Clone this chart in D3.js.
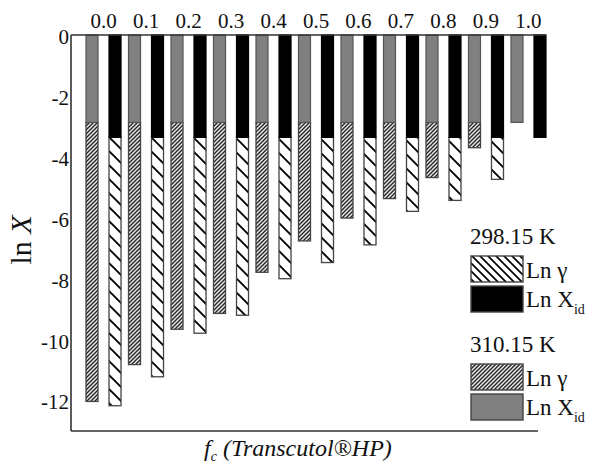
<!DOCTYPE html>
<html>
<head>
<meta charset="utf-8">
<script src="https://cdn.jsdelivr.net/npm/d3@7"></script>
<style>
  html, body { margin: 0; padding: 0; background: #fff; }
  svg { display: block; }
  svg text { font-family: "Liberation Serif", "Times New Roman", serif; }
</style>
</head>
<body>
<svg id="chart" width="594" height="464"></svg>
<script>
// Solvent composition (mass fraction of Transcutol HP)
const fractions = ["0.0", "0.1", "0.2", "0.3", "0.4", "0.5", "0.6", "0.7", "0.8", "0.9", "1.0"];

// Ideal solubility (ln X_id) at each temperature
const lnXid298 = [-3.36, -3.36, -3.36, -3.36, -3.36, -3.36, -3.36, -3.36, -3.36, -3.36, -3.36];
const lnXid310 = [-2.87, -2.87, -2.87, -2.87, -2.87, -2.87, -2.87, -2.87, -2.87, -2.87, -2.87];

// Activity coefficients (ln γ) at each temperature
const lnGamma298 = [8.81, 7.86, 6.43, 5.84, 4.64, 4.11, 3.53, 2.43, 2.07, 1.38, 0.00];
const lnGamma310 = [9.16, 7.95, 6.79, 6.27, 4.92, 3.89, 3.14, 2.50, 1.81, 0.83, 0.00];

const yTicks = [0, -2, -4, -6, -8, -10, -12];
const temps = ["310.15 K", "298.15 K"];

const svg = d3.select("#chart");
const plotLeft = 71, plotRight = 538, plotTop = 35, plotBottom = 431;

const x0 = d3.scaleBand().domain(fractions).range([86, 546]).paddingInner(0.176).paddingOuter(0);
const x1 = d3.scaleBand().domain(temps).range([0, x0.bandwidth()]).paddingInner(0.478).paddingOuter(0);
const y = d3.scaleLinear().domain([0, -13]).range([plotTop, plotBottom]);

// Hatch patterns
const defs = svg.append("defs");
function backHatch(id, size, width) {
  const p = defs.append("pattern").attr("id", id).attr("patternUnits", "userSpaceOnUse")
    .attr("width", size).attr("height", size);
  p.append("rect").attr("width", size).attr("height", size).attr("fill", "#fff");
  p.append("path")
    .attr("d", `M-2,-2L${size + 2},${size + 2}M${size - 2},-2L${size + 2},2M-2,${size - 2}L2,${size + 2}`)
    .attr("stroke", "#000").attr("stroke-width", width);
}
function fwdHatch(id, size, width) {
  const p = defs.append("pattern").attr("id", id).attr("patternUnits", "userSpaceOnUse")
    .attr("width", size).attr("height", size);
  p.append("rect").attr("width", size).attr("height", size).attr("fill", "#e6e6e6");
  p.append("path")
    .attr("d", `M-1,${size + 1}L${size + 1},-1M-1,1L1,-1M${size - 1},${size + 1}L${size + 1},${size - 1}`)
    .attr("stroke", "#222").attr("stroke-width", width);
}
backHatch("hatch298", 14, 1.9);
backHatch("hatch298leg", 8, 1.7);
fwdHatch("hatch310", 4, 1.3);
fwdHatch("hatch310leg", 4, 1.3);

// Stacked segments: ideal part from 0, then ln γ part below it
const series = [
  { temp: "310.15 K", xid: lnXid310, gamma: lnGamma310, solid: "#808080", solidStroke: "#555", hatch: "url(#hatch310)" },
  { temp: "298.15 K", xid: lnXid298, gamma: lnGamma298, solid: "#000", solidStroke: "#000", hatch: "url(#hatch298)" }
];

const barsG = svg.append("g");
series.forEach(s => {
  const g = barsG.append("g");
  fractions.forEach((f, i) => {
    const bx = x0(f) + x1(s.temp);
    const w = x1.bandwidth();
    const idealEnd = s.xid[i];
    const total = s.xid[i] - s.gamma[i];
    if (s.gamma[i] > 0) {
      g.append("rect")
        .attr("x", bx).attr("width", w)
        .attr("y", y(idealEnd)).attr("height", y(total) - y(idealEnd))
        .attr("fill", s.hatch).attr("stroke", "#444").attr("stroke-width", 1.3);
    }
    g.append("rect")
      .attr("x", bx).attr("width", w)
      .attr("y", y(0)).attr("height", y(idealEnd) - y(0))
      .attr("fill", s.solid).attr("stroke", s.solidStroke).attr("stroke-width", 1.2);
  });
});

// Frame lines
const frame = svg.append("g").attr("stroke", "#333").attr("stroke-width", 1.6).attr("fill", "none");
frame.append("line").attr("x1", plotLeft).attr("x2", plotLeft).attr("y1", plotTop).attr("y2", plotBottom);
frame.append("line").attr("x1", plotLeft).attr("x2", plotRight).attr("y1", plotBottom).attr("y2", plotBottom);
frame.append("line").attr("x1", plotLeft).attr("x2", 546).attr("y1", plotTop).attr("y2", plotTop);

// Y axis
const yAxis = svg.append("g").attr("transform", `translate(${plotLeft},0)`)
  .call(d3.axisLeft(y).tickValues(yTicks).tickSize(0).tickPadding(2).tickFormat(d => String(d)));
yAxis.select(".domain").remove();
yAxis.attr("font-family", null).attr("font-size", null);
yAxis.selectAll("text").attr("font-size", 21).attr("fill", "#111").attr("dy", "0.40em");

// Top category axis
const xAxis = svg.append("g").attr("transform", `translate(0,${plotTop})`)
  .call(d3.axisTop(x0).tickSize(0).tickPadding(7));
xAxis.select(".domain").remove();
xAxis.attr("font-family", null).attr("font-size", null);
xAxis.selectAll("text").attr("font-size", 21).attr("fill", "#111");

// Axis titles
const yTitle = svg.append("text")
  .attr("transform", "translate(31,240) rotate(-90)")
  .attr("text-anchor", "middle").attr("font-size", 30).attr("fill", "#111");
yTitle.append("tspan").text("ln ");
yTitle.append("tspan").attr("font-style", "italic").text("X");

const xTitle = svg.append("text").attr("x", 204).attr("y", 456)
  .attr("font-size", 24).attr("font-style", "italic").attr("fill", "#111");
xTitle.append("tspan").text("f");
xTitle.append("tspan").attr("font-size", 14).attr("dy", 5).text("c");
xTitle.append("tspan").attr("dy", -5).text(" (Transcutol®HP)");

// Legend
const legend = svg.append("g").attr("font-size", 23).attr("fill", "#111");
const legendGroups = [
  { title: "298.15 K", ty: 244, y1: 256, y2: 286, hatch: "url(#hatch298leg)", solid: "#000" },
  { title: "310.15 K", ty: 352, y1: 364, y2: 394, hatch: "url(#hatch310leg)", solid: "#808080" }
];
legendGroups.forEach(L => {
  legend.append("text").attr("x", 470).attr("y", L.ty).text(L.title);
  legend.append("rect").attr("x", 471).attr("y", L.y1).attr("width", 52).attr("height", 26)
    .attr("fill", L.hatch).attr("stroke", "#444").attr("stroke-width", 1.4);
  legend.append("rect").attr("x", 471).attr("y", L.y2).attr("width", 52).attr("height", 26)
    .attr("fill", L.solid).attr("stroke", "#444").attr("stroke-width", 1.4);
  legend.append("text").attr("x", 526).attr("y", L.y1 + 22).text("Ln γ");
  const t = legend.append("text").attr("x", 526).attr("y", L.y2 + 21);
  t.append("tspan").text("Ln X");
  t.append("tspan").attr("font-size", 14).attr("dy", 7).text("id");
});
</script>
</body>
</html>
